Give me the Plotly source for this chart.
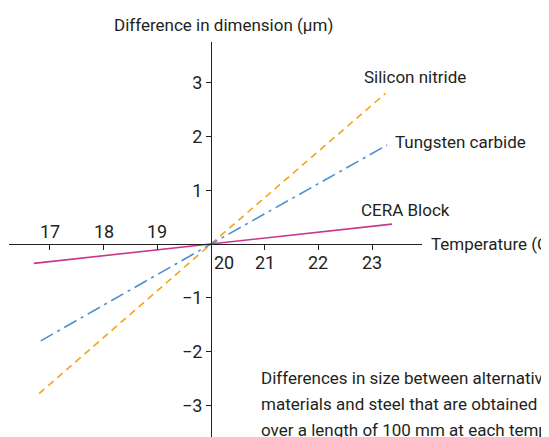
import plotly.graph_objects as go

# ---- data ----
temp_si = [16.8, 20, 23.25]
silicon_nitride = [-2.78, 0, 2.80]
temp_wc = [16.83, 20, 23.28]
tungsten_carbide = [-1.80, 0, 1.84]
temp_cera = [16.70, 20, 23.37]
cera_block = [-0.36, 0, 0.37]

x_ticks_above = [17, 18, 19]
x_ticks_below = [20, 21, 22, 23]
y_ticks = [-3, -2, -1, 1, 2, 3]

FONT = "Roboto, sans-serif"
W, H = 549, 437
ML, MR, MT, MB = 1, 135, 34, 8
X0, XSCALE = 20, 53.7  # origin, px per unit (x)
YSCALE = 53.8
xmin = X0 - (203 - ML) / XSCALE
xmax = xmin + (W - ML - MR) / XSCALE
ymax = (236 - MT) / YSCALE
ymin = ymax - (H - MT - MB) / YSCALE


def px(x):
    return (x - xmin) / (xmax - xmin)


def py(y):
    return (y - ymin) / (ymax - ymin)


fig = go.Figure()
fig.add_trace(go.Scatter(x=temp_si, y=silicon_nitride, mode="lines",
                         line=dict(color="#F5A31C", width=1.6, dash="7px,5px"),
                         name="Silicon nitride"))
fig.add_trace(go.Scatter(x=temp_wc, y=tungsten_carbide, mode="lines",
                         line=dict(color="#4A8FD3", width=1.6, dash="14px,5px,3px,5px"),
                         name="Tungsten carbide"))
fig.add_trace(go.Scatter(x=temp_cera, y=cera_block, mode="lines",
                         line=dict(color="#C8378C", width=1.6),
                         name="CERA Block"))

ann = []
for t in x_ticks_above:
    ann.append(dict(x=px(t), y=py(0), xref="paper", yref="paper", text=str(t),
                    showarrow=False, xanchor="center", yanchor="middle",
                    yshift=13, font=dict(size=18)))
for t in x_ticks_below:
    ann.append(dict(x=px(t), y=py(0), xref="paper", yref="paper", text=str(t),
                    showarrow=False, xanchor="center", yanchor="middle",
                    yshift=-18, xshift=13 if t == 20 else 0,
                    font=dict(size=18)))


def label(x, y, text, size=17):
    ann.append(dict(x=px(x), y=py(y), xref="paper", yref="paper", text=text,
                    showarrow=False, xanchor="left", yanchor="middle",
                    font=dict(size=size)))


label(22.81, 3.10, "Silicon nitride")
label(23.38, 1.90, "Tungsten carbide")
label(22.75, 0.63, "CERA Block")
label(24.06, 0.0, "Temperature (C)")
label(18.15, 4.07, "Difference in dimension (µm)")
label(20.89, -2.49, "Differences in size between alternative gauge")
label(20.89, -2.97, "materials and steel that are obtained when measured")
label(20.89, -3.46, "over a length of 100 mm at each temperature")

fig.update_layout(
    width=W, height=H,
    margin=dict(l=ML, r=MR, t=MT, b=MB, pad=0),
    paper_bgcolor="white", plot_bgcolor="white",
    showlegend=False,
    font=dict(family=FONT, color="#231f20", size=17),
    annotations=ann,
    xaxis=dict(range=[xmin, xmax], showgrid=False, zeroline=False,
               showline=True, linecolor="#231f20", linewidth=1,
               anchor="free", position=py(0),
               ticks="outside", ticklen=5, tickcolor="#231f20",
               tickvals=x_ticks_above + x_ticks_below[1:],
               showticklabels=False),
    yaxis=dict(range=[ymin, ymax], showgrid=False, zeroline=False,
               showline=True, linecolor="#231f20", linewidth=1,
               anchor="free", position=px(X0),
               ticks="outside", ticklen=5, tickcolor="#231f20",
               tickvals=y_ticks, tickfont=dict(size=18)),
)
fig.write_html("out.html")
